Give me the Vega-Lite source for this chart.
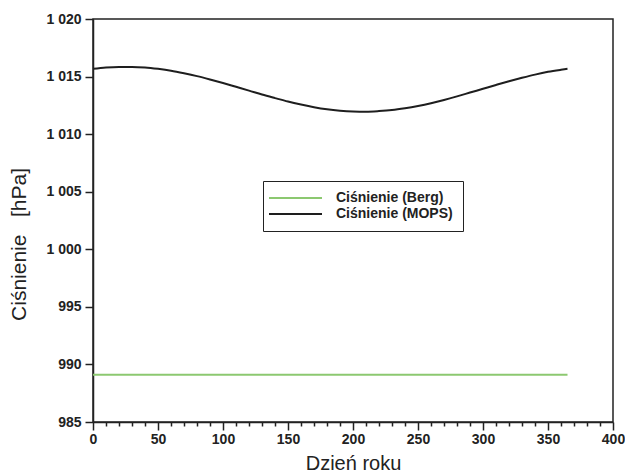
{
  "$schema": "https://vega.github.io/schema/vega-lite/v6.json",
  "width": 520,
  "height": 403,
  "autosize": {"type": "none"},
  "padding": {"left": 93, "top": 19, "right": 12, "bottom": 52},
  "background": "white",
  "config": {
    "font": "Liberation Sans",
    "view": {"stroke": "#222222", "strokeWidth": 1.5},
    "axis": {
      "domainColor": "#222222",
      "domainWidth": 1.5,
      "tickColor": "#222222",
      "tickWidth": 1.5,
      "labelFont": "Liberation Sans",
      "labelFontSize": 14,
      "labelFontWeight": "bold",
      "labelColor": "#222222",
      "titleFont": "Liberation Sans",
      "titleFontSize": 20,
      "titleFontWeight": "normal",
      "titleColor": "#222222",
      "grid": false
    }
  },
  "data": {
    "values": [
      {"day": 0, "p": 1015.67, "s": "Ciśnienie (MOPS)"},
      {"day": 10, "p": 1015.79, "s": "Ciśnienie (MOPS)"},
      {"day": 20, "p": 1015.84, "s": "Ciśnienie (MOPS)"},
      {"day": 30, "p": 1015.84, "s": "Ciśnienie (MOPS)"},
      {"day": 40, "p": 1015.79, "s": "Ciśnienie (MOPS)"},
      {"day": 50, "p": 1015.67, "s": "Ciśnienie (MOPS)"},
      {"day": 60, "p": 1015.51, "s": "Ciśnienie (MOPS)"},
      {"day": 70, "p": 1015.29, "s": "Ciśnienie (MOPS)"},
      {"day": 80, "p": 1015.04, "s": "Ciśnienie (MOPS)"},
      {"day": 90, "p": 1014.75, "s": "Ciśnienie (MOPS)"},
      {"day": 100, "p": 1014.44, "s": "Ciśnienie (MOPS)"},
      {"day": 110, "p": 1014.11, "s": "Ciśnienie (MOPS)"},
      {"day": 120, "p": 1013.78, "s": "Ciśnienie (MOPS)"},
      {"day": 130, "p": 1013.44, "s": "Ciśnienie (MOPS)"},
      {"day": 140, "p": 1013.13, "s": "Ciśnienie (MOPS)"},
      {"day": 150, "p": 1012.83, "s": "Ciśnienie (MOPS)"},
      {"day": 160, "p": 1012.57, "s": "Ciśnienie (MOPS)"},
      {"day": 170, "p": 1012.34, "s": "Ciśnienie (MOPS)"},
      {"day": 180, "p": 1012.16, "s": "Ciśnienie (MOPS)"},
      {"day": 190, "p": 1012.04, "s": "Ciśnienie (MOPS)"},
      {"day": 200, "p": 1011.97, "s": "Ciśnienie (MOPS)"},
      {"day": 210, "p": 1011.95, "s": "Ciśnienie (MOPS)"},
      {"day": 220, "p": 1012.0, "s": "Ciśnienie (MOPS)"},
      {"day": 230, "p": 1012.09, "s": "Ciśnienie (MOPS)"},
      {"day": 240, "p": 1012.25, "s": "Ciśnienie (MOPS)"},
      {"day": 250, "p": 1012.45, "s": "Ciśnienie (MOPS)"},
      {"day": 260, "p": 1012.69, "s": "Ciśnienie (MOPS)"},
      {"day": 270, "p": 1012.97, "s": "Ciśnienie (MOPS)"},
      {"day": 280, "p": 1013.28, "s": "Ciśnienie (MOPS)"},
      {"day": 290, "p": 1013.61, "s": "Ciśnienie (MOPS)"},
      {"day": 300, "p": 1013.94, "s": "Ciśnienie (MOPS)"},
      {"day": 310, "p": 1014.27, "s": "Ciśnienie (MOPS)"},
      {"day": 320, "p": 1014.59, "s": "Ciśnienie (MOPS)"},
      {"day": 330, "p": 1014.89, "s": "Ciśnienie (MOPS)"},
      {"day": 340, "p": 1015.17, "s": "Ciśnienie (MOPS)"},
      {"day": 350, "p": 1015.41, "s": "Ciśnienie (MOPS)"},
      {"day": 360, "p": 1015.59, "s": "Ciśnienie (MOPS)"},
      {"day": 365, "p": 1015.67, "s": "Ciśnienie (MOPS)"},
      {"day": 0, "p": 989.1, "s": "Ciśnienie (Berg)"},
      {"day": 365, "p": 989.1, "s": "Ciśnienie (Berg)"}
    ]
  },
  "resolve": {"axis": {"x": "independent"}},
  "layer": [
    {
      "mark": {"type": "line", "strokeWidth": 2, "interpolate": "monotone"},
      "encoding": {
        "x": {
          "field": "day",
          "type": "quantitative",
          "scale": {"domain": [0, 400], "nice": false, "zero": false},
          "axis": {
            "orient": "bottom",
            "title": "Dzień roku",
            "values": [0, 50, 100, 150, 200, 250, 300, 350, 400],
            "tickSize": 8,
            "labelPadding": 2,
            "labelFlush": false,
            "labelOverlap": false,
            "titlePadding": 7
          }
        },
        "y": {
          "field": "p",
          "type": "quantitative",
          "scale": {"domain": [985, 1020], "nice": false, "zero": false},
          "axis": {
            "title": "Ciśnienie\u00a0\u00a0\u00a0[hPa]",
            "titleFontSize": 21,
            "values": [985, 990, 995, 1000, 1005, 1010, 1015, 1020],
            "labelExpr": "replace(format(datum.value, ','), ',', ' ')",
            "tickSize": 8,
            "labelPadding": 4,
            "titleX": -64,
            "titleY": 225,
            "labelFlush": false,
            "labelOverlap": false
          }
        },
        "color": {
          "field": "s",
          "type": "nominal",
          "scale": {
            "domain": ["Ciśnienie (Berg)", "Ciśnienie (MOPS)"],
            "range": ["#8cc870", "#1e1e1e"]
          },
          "legend": {
            "title": null,
            "orient": "none",
            "legendX": 170,
            "legendY": 162,
            "strokeColor": "#222222",
            "fillColor": "white",
            "padding": 10,
            "symbolType": "M-2.2,0H8.4",
            "symbolSize": 100,
            "symbolStrokeWidth": 2,
            "labelFont": "Liberation Sans",
            "labelFontSize": 14,
            "labelFontWeight": "bold",
            "labelColor": "#222222",
            "labelOffset": 49,
            "rowPadding": 2
          }
        }
      }
    },
    {
      "mark": {"type": "rule", "opacity": 0},
      "encoding": {
        "x": {
          "field": "day",
          "type": "quantitative",
          "axis": {
            "orient": "bottom",
            "title": null,
            "values": [10, 20, 30, 40, 60, 70, 80, 90, 110, 120, 130, 140, 160, 170, 180, 190, 210, 220, 230, 240, 260, 270, 280, 290, 310, 320, 330, 340, 360, 370, 380, 390],
            "tickSize": 4,
            "labels": false,
            "domain": false
          }
        }
      }
    }
  ]
}
